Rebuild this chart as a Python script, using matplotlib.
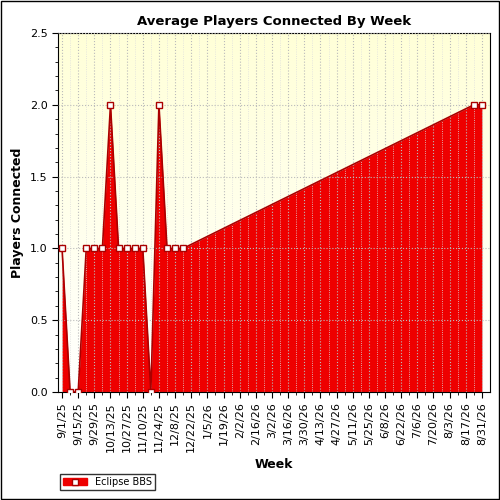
import matplotlib
matplotlib.use("Agg")
import matplotlib.pyplot as plt
import numpy as np
from matplotlib.patches import Rectangle

weeks = [0,1,2,3,4,5,6,7,8,9,10,11,12,13,14,15,51,52]
values = [1,0,0,1,1,1,2,1,1,1,1,0,2,1,1,1,2,2]
tick_labels = ["9/1/25","9/15/25","9/29/25","10/13/25","10/27/25","11/10/25","11/24/25","12/8/25","12/22/25",
               "1/5/26","1/19/26","2/2/26","2/16/26","3/2/26","3/16/26","3/30/26","4/13/26","4/27/26",
               "5/11/26","5/25/26","6/8/26","6/22/26","7/6/26","7/20/26","8/3/26","8/17/26","8/31/26"]

fig = plt.figure(figsize=(5,5), dpi=100)
fig.patches.append(Rectangle((0.002,0.002),0.996,0.996, transform=fig.transFigure, fill=False, ec='black', lw=1))
ax = fig.add_axes([0.116, 0.216, 0.864, 0.718])
ax.imshow(np.linspace(0,1,256).reshape(-1,1), cmap=matplotlib.colors.LinearSegmentedColormap.from_list('g',['#FFFFD8','#FFFFFF']),
          aspect='auto', extent=[-0.5,53,0,2.5], zorder=0, origin='upper')
ax.set_xlim(-0.5,53); ax.set_ylim(0,2.5)
ax.fill_between(weeks, values, 0, color='#EE0000', lw=0, zorder=2)
ax.plot(weeks, values, color='#AA0000', lw=1.2, zorder=3)
ax.plot(weeks, values, ls='none', marker='s', ms=5, mfc='white', mec='#AA0000', mew=1, zorder=4, label='Eclipse BBS')
ax.set_xticks(range(0,53,2)); ax.set_xticklabels(tick_labels, rotation=90, fontsize=8)
ax.set_xticks(range(0,53), minor=True)
ax.set_yticks(np.arange(0,2.51,0.5)); ax.set_yticklabels([f"{v:.1f}" for v in np.arange(0,2.51,0.5)], fontsize=8)
ax.set_yticks(np.arange(0,2.51,0.1), minor=True)
ax.grid(True, which='major', ls=':', color='#BBBBBB', lw=0.8)
ax.grid(True, which='minor', axis='x', ls=':', color='#DDDDDD', lw=0.6)
ax.set_axisbelow(False)
ax.tick_params(direction='out', length=4)
ax.tick_params(which='minor', length=2)
ax.set_title("Average Players Connected By Week", fontsize=9.5, fontweight='bold')
ax.set_xlabel("Week", fontsize=9, fontweight='bold')
ax.set_ylabel("Players Connected", fontsize=9, fontweight='bold')
for s in ax.spines.values(): s.set_linewidth(0.8)
from matplotlib.lines import Line2D
h = (Rectangle((0,0),1,1,color='#EE0000'), Line2D([],[],ls='none',marker='s',ms=5,mfc='white',mec='#AA0000'))
fig.legend([h], ['Eclipse BBS'], loc='lower left', bbox_to_anchor=(0.11,0.01), fontsize=7, frameon=True,
           fancybox=False, edgecolor='black', handlelength=2.5, borderpad=0.3)
fig.savefig("out.png", dpi=100)
